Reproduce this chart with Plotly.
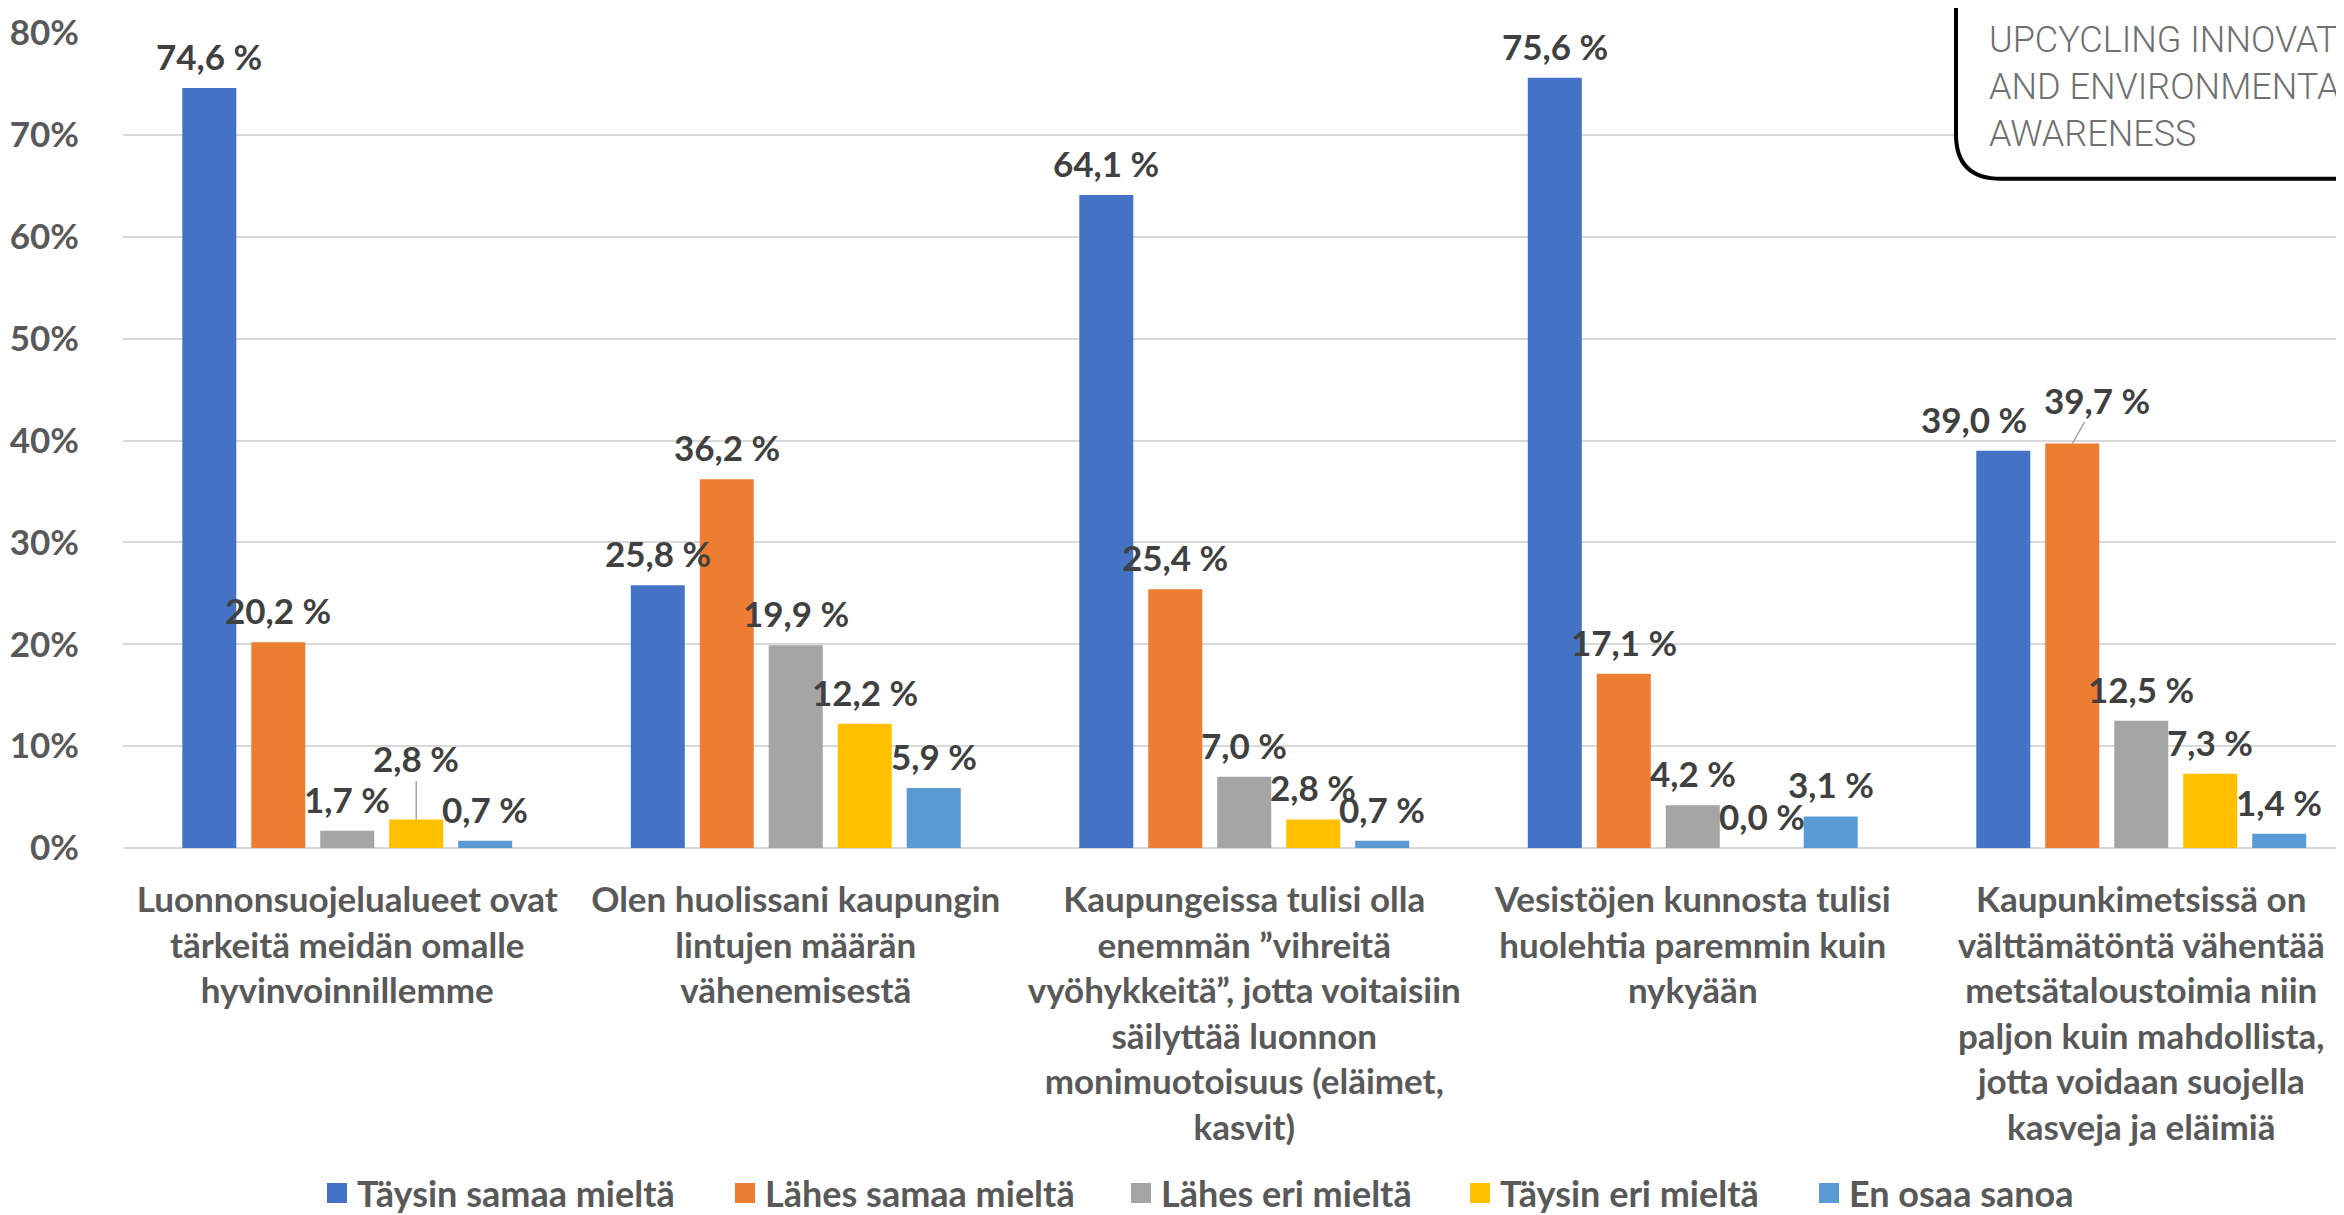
import plotly.graph_objects as go

# survey statements (x axis)
categories = [
    "Luonnonsuojelualueet ovat<br>tärkeitä meidän omalle<br>hyvinvoinnillemme",
    "Olen huolissani kaupungin<br>lintujen määrän<br>vähenemisestä",
    "Kaupungeissa tulisi olla<br>enemmän ”vihreitä<br>vyöhykkeitä”, jotta voitaisiin<br>säilyttää luonnon<br>monimuotoisuus (eläimet,<br>kasvit)",
    "Vesistöjen kunnosta tulisi<br>huolehtia paremmin kuin<br>nykyään",
    "Kaupunkimetsissä on<br>välttämätöntä vähentää<br>metsätaloustoimia niin<br>paljon kuin mahdollista,<br>jotta voidaan suojella<br>kasveja ja eläimiä",
]

series_names = ["Täysin samaa mieltä", "Lähes samaa mieltä", "Lähes eri mieltä",
                "Täysin eri mieltä", "En osaa sanoa"]

# answer shares, %
taysin_samaa = [74.6, 25.8, 64.1, 75.6, 39.0]
lahes_samaa = [20.2, 36.2, 25.4, 17.1, 39.7]
lahes_eri = [1.7, 19.9, 7.0, 4.2, 12.5]
taysin_eri = [2.8, 12.2, 2.8, 0.0, 7.3]
en_osaa = [0.7, 5.9, 0.7, 3.1, 1.4]

y_ticks = [0, 10, 20, 30, 40, 50, 60, 70, 80]
y_ticktext = [f"{v}%" for v in y_ticks]

series = [taysin_samaa, lahes_samaa, lahes_eri, taysin_eri, en_osaa]
colors = ["#4472C4", "#ED7D31", "#A5A5A5", "#FFC000", "#5B9BD5"]

# page geometry (px)
W, H = 2344, 1215
left, top, bottom = 115, 25, 362
plot_w = W - left
plot_h = H - top - bottom
cat_px = 448.5
bargap = 0.231
groupgap = 0.217
legend_px = [329, 737, 1133, 1472, 1821]   # where each legend swatch starts

FONT = "Lato, 'Open Sans', sans-serif"


def px_x(p):
    return (p - left) / plot_w


def px_y(p):
    return (H - bottom - p) / plot_h


xs = list(range(len(categories)))

fig = go.Figure()
for name, vals, col in zip(series_names, series, colors):
    fig.add_trace(go.Bar(x=xs, y=vals, name=name, marker_color=col,
                         marker_line_width=0, hoverinfo="skip",
                         showlegend=False))

# legend: one small legend per entry so the spacing follows the original
legends = {}
for i, (name, col) in enumerate(zip(series_names, colors)):
    key = "legend" if i == 0 else f"legend{i + 1}"
    fig.add_trace(go.Scatter(x=[None], y=[None], mode="markers", name=name,
                             legend=key,
                             marker=dict(symbol="square", size=16, color=col,
                                         line=dict(color=col, width=4)),
                             hoverinfo="skip"))
    legends[key] = dict(orientation="h", x=px_x(legend_px[i] - 20),
                        xanchor="left", y=px_y(1204), yanchor="middle",
                        font=dict(family=FONT, size=36, color="#595959",
                                  weight="bold"),
                        itemwidth=30, bgcolor="rgba(0,0,0,0)")

# data labels; a few were moved by hand in the original
moved = {
    (0, 3): dict(ax=0, ay=-61, showarrow=True),
    (4, 0): dict(xshift=-29),
    (4, 1): dict(ax=25, ay=-44, showarrow=True),
}
slot = (1 - bargap) / len(series)
annotations = []
for si, vals in enumerate(series):
    for ci, v in enumerate(vals):
        a = dict(x=ci + (si - 2) * slot, y=v, xref="x", yref="y",
                 text=f"{v:.1f} %".replace(".", ","),
                 font=dict(family=FONT, size=35, color="#404040", weight="bold"),
                 showarrow=False, yshift=32, yanchor="middle", xanchor="center")
        if (ci, si) in moved:
            m = moved[(ci, si)]
            if m.get("showarrow"):
                a.update(showarrow=True, ax=m["ax"], ay=m["ay"], yshift=0,
                         arrowhead=0, arrowwidth=1.5, arrowcolor="#A6A6A6",
                         standoff=0)
                a.pop("yanchor")
                a.pop("xanchor")
            else:
                a.update(m)
        annotations.append(a)

# logo box in the top right corner
annotations.append(dict(
    xref="paper", yref="paper", x=px_x(1979), y=px_y(80),
    xanchor="left", yanchor="middle", align="left", showarrow=False,
    text="UPCYCLING INNOVATION<br>AND ENVIRONMENTAL<br>AWARENESS",
    font=dict(family="Roboto, sans-serif", size=36, color="#707070", weight=300)))

x0, y1, r = 1948, 173, 45
logo_path = (f"M {px_x(x0)},{px_y(-30)} L {px_x(x0)},{px_y(y1 - r)} "
             f"Q {px_x(x0)},{px_y(y1)} {px_x(x0 + r)},{px_y(y1)} "
             f"L {px_x(W + 40)},{px_y(y1)} L {px_x(W + 40)},{px_y(-30)} Z")

fig.update_layout(
    width=W, height=H,
    margin=dict(l=left, r=0, t=top, b=bottom, pad=0),
    paper_bgcolor="white", plot_bgcolor="white",
    barmode="group", bargap=bargap, bargroupgap=groupgap,
    font=dict(family=FONT, size=35, color="#595959"),
    showlegend=True,
    annotations=annotations,
    shapes=[dict(type="path", xref="paper", yref="paper", path=logo_path,
                 fillcolor="white", line=dict(color="black", width=4),
                 layer="above")],
    **legends,
)

fig.update_xaxes(
    range=[-0.5, -0.5 + plot_w / cat_px],
    tickvals=xs, ticktext=categories, tickangle=0,
    tickfont=dict(family=FONT, size=35, color="#595959", weight="bold"),
    showgrid=False, zeroline=False, showline=False, ticks="",
    ticklabelstandoff=28, automargin=False,
)
fig.update_yaxes(
    range=[0, 80], tickvals=y_ticks, ticktext=y_ticktext,
    tickfont=dict(family=FONT, size=35, color="#595959", weight="bold"),
    showgrid=True, gridcolor="#D9D9D9", gridwidth=2,
    zeroline=True, zerolinecolor="#D9D9D9", zerolinewidth=2,
    showline=False, ticks="", ticklabelstandoff=43, automargin=False,
)

fig.write_html("out.html")
